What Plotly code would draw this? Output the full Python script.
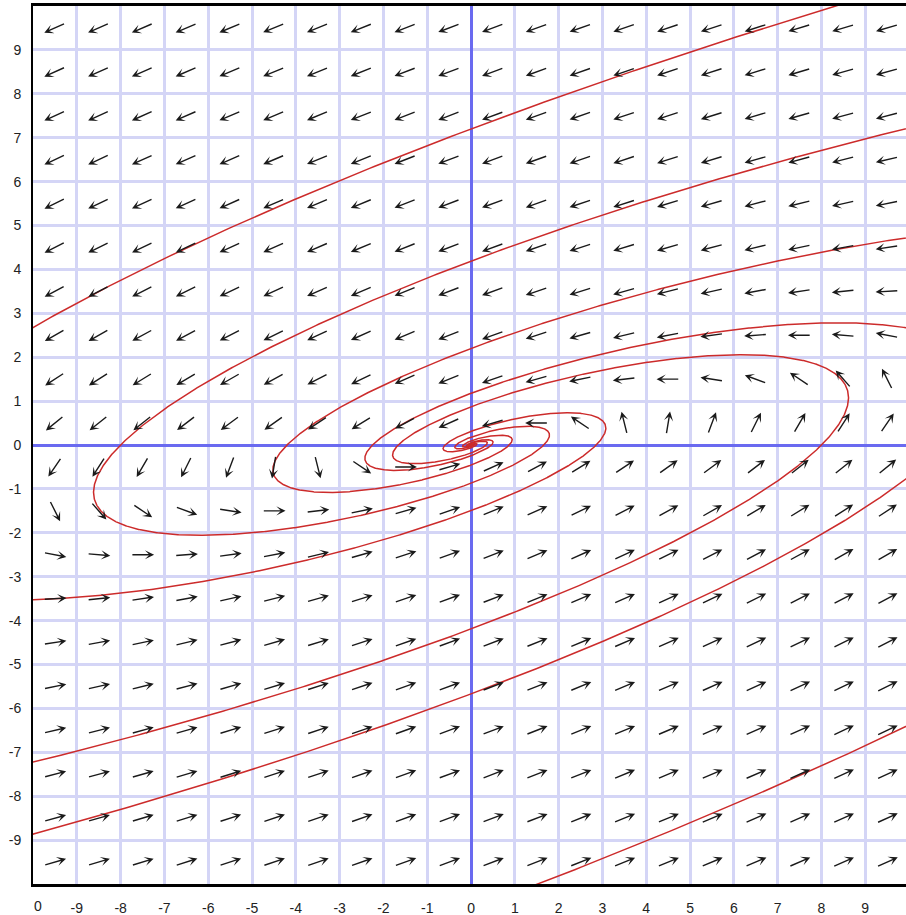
import numpy as np
import plotly.graph_objects as go

# Linear system read from the direction field:  x' = a*x + b*y ,  y' = c*x + d*y
coef_a, coef_b = 1.0, -8.0
coef_c, coef_d = 1.0, -3.0

# Arrow grid (cell centres)
arrow_x = [-9.5, -8.5, -7.5, -6.5, -5.5, -4.5, -3.5, -2.5, -1.5, -0.5,
           0.5, 1.5, 2.5, 3.5, 4.5, 5.5, 6.5, 7.5, 8.5, 9.5]
arrow_y = [-9.5, -8.5, -7.5, -6.5, -5.5, -4.5, -3.5, -2.5, -1.5, -0.5,
           0.5, 1.5, 2.5, 3.5, 4.5, 5.5, 6.5, 7.5, 8.5, 9.5]

# Points (on the y axis) that the solution curves pass through
seed_x = [0.0, 0.0, 0.0, 0.0, 0.0]
seed_y = [7.2, 4.19, 2.2, -4.19, -5.67]

# Tick labels
x_tick_vals = [-9, -8, -7, -6, -5, -4, -3, -2, -1, 0, 1, 2, 3, 4, 5, 6, 7, 8, 9]
x_tick_text = ["-9", "-8", "-7", "-6", "-5", "-4", "-3", "-2", "-1", "0",
               "1", "2", "3", "4", "5", "6", "7", "8", "9"]
y_tick_vals = [-9, -8, -7, -6, -5, -4, -3, -2, -1, 0, 1, 2, 3, 4, 5, 6, 7, 8, 9]
y_tick_text = ["-9", "-8", "-7", "-6", "-5", "-4", "-3", "-2", "-1", "0",
               "1", "2", "3", "4", "5", "6", "7", "8", "9"]
left_edge_label = "0"


def field(p):
    x, y = p
    return np.array([coef_a * x + coef_b * y, coef_c * x + coef_d * y])


def integrate(p0, direction, dt=0.002, tmax=20.0, bound=40.0):
    pts = [np.array(p0, dtype=float)]
    p = pts[0].copy()
    h = dt * direction
    for _ in range(int(tmax / dt)):
        k1 = field(p)
        k2 = field(p + 0.5 * h * k1)
        k3 = field(p + 0.5 * h * k2)
        k4 = field(p + h * k3)
        p = p + h / 6.0 * (k1 + 2 * k2 + 2 * k3 + k4)
        pts.append(p.copy())
        if abs(p[0]) > bound or abs(p[1]) > bound:
            break
        if np.hypot(p[0], p[1]) < 1e-3:
            break
    return np.array(pts)


fig = go.Figure()

for sx, sy in zip(seed_x, seed_y):
    back = integrate((sx, sy), -1, tmax=6.0, bound=60.0)[::-1]
    fwd = integrate((sx, sy), 1, tmax=20.0)
    curve = np.vstack([back, fwd[1:]])
    fig.add_trace(go.Scatter(x=curve[:, 0], y=curve[:, 1], mode="lines",
                             line=dict(color="#cc2b2b", width=1.5),
                             hoverinfo="skip"))

half_len = 0.265
annotations = []
for ay_ in arrow_y:
    for ax_ in arrow_x:
        u, v = field((ax_, ay_))
        n = np.hypot(u, v)
        if n == 0:
            continue
        u, v = u / n, v / n
        annotations.append(dict(
            x=ax_ + half_len * u, y=ay_ + half_len * v,
            ax=ax_ - half_len * u, ay=ay_ - half_len * v,
            xref="x", yref="y", axref="x", ayref="y",
            showarrow=True, arrowhead=3, arrowsize=1.1, arrowwidth=1.4,
            arrowcolor="#1a1a1a", text=""))

annotations.append(dict(x=-10, y=0, xref="x", yref="paper", text=left_edge_label,
                        showarrow=False, xshift=5, yshift=-22,
                        xanchor="center", yanchor="middle",
                        font=dict(family="Liberation Sans, Arial", size=14, color="#222")))

fig.update_layout(
    width=906, height=915,
    margin=dict(l=33, r=0, t=6, b=31),
    plot_bgcolor="white", paper_bgcolor="white",
    showlegend=False,
    annotations=annotations,
    font=dict(family="Liberation Sans, Arial", size=14, color="#222"),
    xaxis=dict(range=[-10, 9.93], tickmode="array", tickvals=x_tick_vals,
               ticktext=x_tick_text, showgrid=True, gridcolor="#d4d5f6",
               gridwidth=2.5, zeroline=True, zerolinecolor="#6a6af0",
               zerolinewidth=2.5, showline=True, linecolor="black", linewidth=2.5,
               mirror=True, ticks="", ticklabelstandoff=9, fixedrange=True),
    yaxis=dict(range=[-10, 10], tickmode="array", tickvals=y_tick_vals,
               ticktext=y_tick_text, showgrid=True, gridcolor="#d4d5f6",
               gridwidth=2.5, zeroline=True, zerolinecolor="#6a6af0",
               zerolinewidth=2.5, showline=True, linecolor="black", linewidth=2,
               mirror=False, ticks="", ticklabelstandoff=7, fixedrange=True),
)

fig.write_html("out.html", config={"displayModeBar": False},
               post_script="document.body.style.margin='0px';")
